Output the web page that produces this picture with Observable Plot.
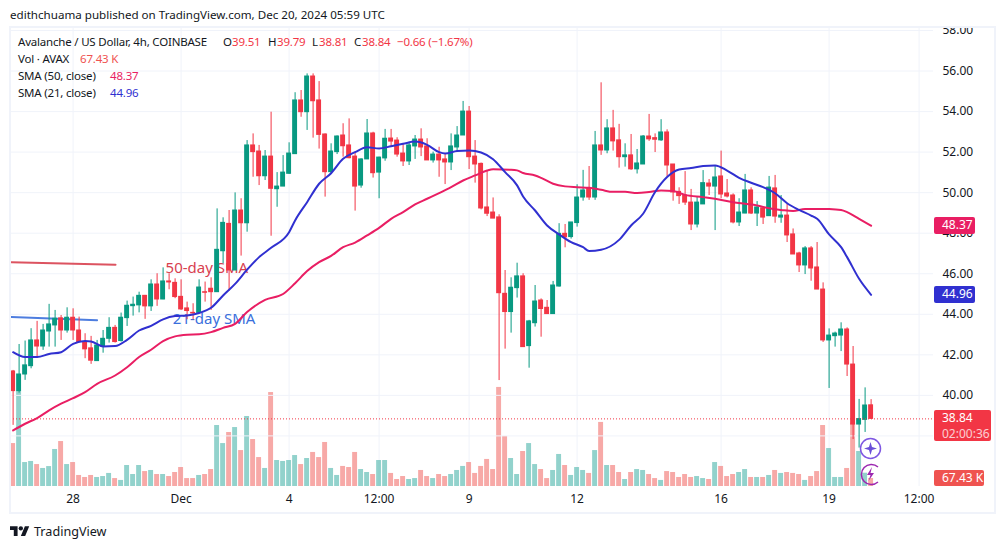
<!DOCTYPE html>
<html>
<head>
<meta charset="utf-8">
<script src="https://cdn.jsdelivr.net/npm/d3@7"></script>
<script src="https://cdn.jsdelivr.net/npm/@observablehq/plot@0.6"></script>
<style>
html,body{margin:0;padding:0;background:#fff;width:1005px;height:549px;overflow:hidden}
#stage{position:relative;width:1005px;height:549px;font-family:"Noto Sans",sans-serif;color:#131722}
#stage>svg,.layer{position:absolute;left:0;top:0}
.layer svg{display:block}
.t{position:absolute;white-space:nowrap;font-size:11.6px;line-height:16px}
.lg{font-size:11.5px;letter-spacing:-0.2px}
.tag{position:absolute;color:#fff;font-size:12px;line-height:16px;padding-left:8px;box-sizing:border-box;border-radius:2px;white-space:nowrap}
</style>
</head>
<body>
<div id="stage"></div>
<script>
const opens=[41.18,40.21,41.03,41.44,42.71,42.41,43.15,43.45,43.80,43.20,
43.83,43.20,42.63,42.32,41.69,42.41,42.79,43.33,42.68,43.81,
44.40,44.44,44.91,44.39,45.47,44.73,45.62,45.55,44.86,44.29,
44.07,44.07,45.09,45.26,45.09,47.11,48.46,46.16,49.12,48.49,
52.33,52.03,50.81,51.78,50.17,50.30,50.93,51.90,54.55,53.97,
55.73,54.55,52.87,51.01,52.00,52.82,52.33,51.78,50.35,51.64,
52.92,50.99,51.69,52.67,52.57,51.93,51.54,52.28,52.62,52.28,
51.59,51.88,51.64,51.49,52.23,52.82,54.00,51.78,51.42,49.27,
49.02,48.78,45.01,44.11,45.29,45.87,42.43,43.56,44.68,44.32,
44.01,45.37,47.97,47.81,48.50,49.76,50.21,49.76,52.33,52.08,
53.17,52.58,51.75,51.84,51.15,51.39,52.77,52.69,52.58,52.97,
51.39,50.04,49.86,49.51,48.43,49.42,50.45,50.30,50.80,49.96,
49.86,48.53,48.97,50.11,48.97,49.23,48.84,50.21,48.77,48.87,
47.94,47.00,46.41,47.25,46.31,45.22,42.71,42.92,42.95,43.25,
41.52,38.56,38.79,39.51];
const highs=[41.23,42.51,42.68,43.29,43.65,43.50,44.49,44.19,43.94,44.32,
44.27,43.86,43.04,42.91,42.71,43.20,43.83,43.45,44.06,44.65,
44.85,45.09,44.93,45.70,46.00,46.29,46.00,45.75,45.70,44.60,
44.52,45.70,45.59,45.80,49.20,48.76,49.12,49.99,49.70,52.57,
52.90,52.33,52.08,53.97,50.99,51.83,52.46,54.93,55.04,55.86,
55.86,55.48,52.90,52.41,52.80,53.40,53.64,52.00,51.67,53.61,
52.98,51.75,53.12,53.12,52.71,52.41,52.49,52.82,53.15,52.66,
52.00,52.24,51.92,52.90,53.26,54.50,54.25,52.57,51.46,51.04,
49.74,48.91,46.16,45.80,46.52,46.00,43.70,45.42,44.76,44.68,
45.62,48.47,48.43,48.53,50.39,51.10,51.29,53.02,55.42,53.60,
54.06,53.37,52.41,52.87,52.13,52.82,53.86,52.90,53.60,53.10,
51.39,50.24,51.04,50.16,49.78,51.09,50.65,51.34,52.05,50.65,
49.94,49.70,50.90,50.24,49.56,49.28,50.80,50.85,49.86,49.42,
48.21,47.06,47.34,47.34,47.54,45.55,43.28,43.12,43.58,43.33,
42.41,39.80,40.37,39.79];
const lows=[38.52,40.11,40.74,41.31,41.89,42.22,42.38,42.38,42.71,43.07,
42.71,42.58,41.81,41.53,41.67,42.08,42.58,42.58,42.63,43.40,
43.91,44.07,43.75,44.14,44.39,44.72,45.21,44.77,44.19,43.73,
43.73,44.06,44.60,44.19,45.09,46.49,45.14,46.16,46.87,48.05,
50.76,50.35,50.60,47.85,49.28,50.30,50.90,51.90,53.72,53.07,
52.69,52.15,49.78,50.93,51.88,51.75,51.67,49.09,50.22,51.64,
50.72,49.70,51.55,52.24,51.75,51.29,51.34,51.64,51.78,51.59,
51.46,50.76,50.40,51.09,51.98,52.82,51.14,50.47,49.15,48.82,
48.72,40.73,42.28,43.07,44.80,42.38,41.34,43.37,42.87,44.01,
44.01,45.34,47.28,47.71,48.30,49.58,49.62,49.62,51.84,51.92,
52.05,51.21,51.26,51.10,50.92,51.39,52.53,51.98,52.53,50.80,
49.58,49.42,49.37,48.13,48.26,49.42,49.86,48.13,49.70,49.74,
48.46,48.33,48.96,48.92,48.33,48.43,48.84,48.49,48.49,47.54,
46.95,46.06,45.96,45.63,45.22,42.61,40.34,42.38,42.16,40.93,
37.82,37.40,38.17,38.81];
const closes=[40.21,41.03,41.48,42.71,42.41,43.20,43.50,43.78,43.20,43.83,
43.20,42.63,42.27,41.71,42.46,42.79,43.33,42.63,43.83,44.42,
44.47,44.91,44.39,45.47,44.73,45.62,45.57,44.85,44.24,44.16,
44.04,45.32,45.06,45.09,47.18,48.51,46.16,49.12,48.49,52.33,
52.00,50.81,51.78,50.19,50.30,50.99,51.93,54.55,53.97,55.73,
54.51,52.85,51.01,52.03,52.77,52.29,51.70,50.30,51.64,52.92,
50.96,51.73,52.66,52.52,51.88,51.54,52.33,52.62,52.23,51.59,
51.88,51.59,51.49,52.28,52.82,54.00,51.75,51.39,49.22,48.96,
48.72,45.04,44.11,45.31,45.87,42.38,43.65,44.63,44.26,44.01,
45.42,47.97,47.79,48.53,49.76,50.11,49.76,52.33,52.08,53.17,
52.53,51.75,51.84,51.15,51.44,52.77,52.63,52.61,52.97,51.34,
50.01,49.83,49.51,48.43,49.51,50.47,50.30,50.75,49.91,49.81,
48.53,49.02,50.11,48.97,49.27,48.77,50.25,48.82,48.87,47.89,
46.95,46.41,47.25,46.26,45.22,42.71,42.95,43.05,43.25,41.52,
38.56,38.83,39.50,38.84];
const volumes=[362,803,202,211,185,152,168,312,379,185,
202,93,76,93,76,84,110,67,51,177,
101,177,126,135,101,101,84,118,160,67,
67,93,101,143,514,362,455,497,303,590,
396,244,152,792,219,211,219,261,185,236,
287,244,371,152,93,169,160,287,143,118,
101,219,219,110,59,84,59,67,135,84,
67,101,84,101,135,169,202,110,169,228,
143,835,422,236,101,295,362,185,143,67,
135,270,177,93,160,135,110,303,540,177,
177,118,59,118,143,135,101,67,51,126,
118,76,101,76,84,67,59,202,169,84,
101,118,143,76,76,76,93,135,110,118,
110,101,51,84,126,514,320,76,76,152,
534,295,112,67.43];

const sma21Bars=[0,2,4,6,8,10,12,13,15,17,19,21,23,25,27,29,31,33,35,37,39,41,43,46,47,49,51,53,55,57,59,61,63,65,67,69,71,72,74,76,78,80,82,84,85,87,89,91,93,95,96,98,101,103,105,107,109,111,113,115,117,119,121,123,125,127,129,131,133,134,136,138,139,141,143];
const sma21Values=[42.13,41.89,41.89,42.04,42.13,42.54,42.68,42.66,42.41,42.43,42.74,43.20,43.43,43.75,43.91,43.94,44.06,44.32,44.93,45.50,46.20,46.82,47.28,48.05,48.63,49.53,50.44,50.96,51.67,52.00,52.24,52.18,52.29,52.41,52.52,52.36,52.00,51.93,52.05,52.08,51.98,51.65,51.01,50.36,49.81,49.12,48.38,47.94,47.56,47.31,47.12,47.18,47.67,48.38,48.96,50.03,50.77,51.14,51.22,51.31,51.34,51.09,50.73,50.49,50.27,49.97,49.48,49.15,48.87,48.71,47.94,47.31,46.82,45.75,44.96];
const sma50Bars=[0,2,4,6,8,10,12,14,17,19,21,23,25,27,29,31,33,35,37,39,42,45,47,49,51,53,55,57,59,61,63,65,67,69,71,73,75,77,79,80,83,84,85,87,88,90,92,94,96,98,100,102,104,106,108,110,112,115,117,120,122,124,126,128,130,132,134,136,138,139,141,143];
const sma50Values=[38.27,38.60,38.88,39.26,39.59,39.86,40.16,40.57,40.98,41.39,41.89,42.25,42.68,42.91,42.99,43.01,43.12,43.33,43.53,44.11,44.71,45.00,45.53,46.13,46.57,46.88,47.31,47.54,47.89,48.26,48.71,49.04,49.42,49.70,49.98,50.27,50.60,50.85,51.09,51.15,51.13,51.10,50.97,50.85,50.73,50.44,50.31,50.27,50.24,50.14,50.04,50.04,49.98,50.03,50.11,50.08,49.89,49.78,49.70,49.53,49.45,49.37,49.23,49.15,49.09,49.20,49.20,49.19,49.14,49.04,48.71,48.37];

const drawn50Bars=[-0.3,17.07], drawn50Values=[46.57,46.44];
const drawn21Bars=[-0.3,14.0], drawn21Values=[43.86,43.71];

const tickBars=[10,28,46,61,76,94,118,136,151];
const tickLabels=["28","Dec","4","12:00","9","12","16","19","12:00"];
const priceTicks=[58,56,54,52,50,48,46,44,42,40];
const gridPrices=[58,56,54,52,50,48,46,44,42,40,38];

const bars=opens.map((o,i)=>({i,o,h:highs[i],l:lows[i],c:closes[i],v:volumes[i],up:closes[i]>=o}));
const sma21=sma21Bars.map((b,k)=>({b,v:sma21Values[k]}));
const sma50=sma50Bars.map((b,k)=>({b,v:sma50Values[k]}));
const drawn50=drawn50Bars.map((b,k)=>({b,v:drawn50Values[k]}));
const drawn21=drawn21Bars.map((b,k)=>({b,v:drawn21Values[k]}));

const GREEN="#089981",RED="#f23645",GRID="#f0f3fa";
const FONT='"Noto Sans",sans-serif';
const W=1005,H=549,ML=10,MR=72,MT=27,MB=63;
const half=0.41;

const volPlot=Plot.plot({
  width:W,height:H,marginLeft:ML,marginRight:MR,marginTop:MT,marginBottom:MB,
  style:{background:"transparent",fontFamily:FONT,fontSize:"12px",color:"#131722"},
  x:{domain:[-0.4333,153.4],axis:null},y:{domain:[0,3869],axis:null},
  marks:[
    Plot.ruleX(tickBars,{x:d=>d,stroke:GRID,strokeWidth:1}),
    Plot.rect(bars,{x1:d=>d.i-half,x2:d=>d.i+half,y1:0,y2:"v",fill:d=>d.up?"#26a69a":"#ef5350",fillOpacity:0.5}),
    Plot.axisX({ticks:tickBars,tickFormat:d=>tickLabels[tickBars.indexOf(d)],tickSize:0,tickPadding:8,label:null,fontSize:12})
  ]
});

const pricePlot=Plot.plot({
  width:W,height:H,marginLeft:ML,marginRight:MR,marginTop:MT,marginBottom:MB,
  style:{background:"transparent",fontFamily:FONT,fontSize:"12px",color:"#131722"},
  x:{domain:[-0.4333,153.4],axis:null},y:{domain:[35.504,58.148]},
  marks:[
    Plot.ruleY(gridPrices,{y:d=>d,stroke:GRID,strokeWidth:1}),
    Plot.line(drawn50,{x:"b",y:"v",stroke:"#d8404f",strokeWidth:2,strokeOpacity:0.9}),
    Plot.line(drawn21,{x:"b",y:"v",stroke:"#3a6fdc",strokeWidth:2,strokeOpacity:0.9}),
    Plot.text(["50-day SMA"],{x:[32.3],y:[46.26],text:d=>d,fill:"#d8404f",fontSize:15}),
    Plot.text(["21-day SMA"],{x:[33.5],y:[43.74],text:d=>d,fill:"#3a6fdc",fontSize:15}),
    Plot.ruleX(bars,{x:"i",y1:"l",y2:"h",stroke:d=>d.up?GREEN:RED,strokeWidth:1}),
    Plot.rect(bars,{x1:d=>d.i-half,x2:d=>d.i+half,y1:d=>Math.min(d.o,d.c),y2:d=>Math.max(d.o,d.c),fill:d=>d.up?GREEN:RED,insetTop:-0.5,insetBottom:-0.5}),
    Plot.line(sma50,{x:"b",y:"v",stroke:"#e91e63",strokeWidth:2,curve:"monotone-x"}),
    Plot.line(sma21,{x:"b",y:"v",stroke:"#3030d0",strokeWidth:2,curve:"monotone-x"}),
    Plot.ruleY([38.84],{stroke:RED,strokeDasharray:"1 2",strokeWidth:1}),
    Plot.axisY({anchor:"right",ticks:priceTicks,tickFormat:d=>d.toFixed(2),tickSize:0,tickPadding:9,label:null,fontSize:12})
  ]
});

const stage=document.getElementById("stage");
stage.append(volPlot,pricePlot);

function el(cls,css,html){const d=document.createElement("div");d.className=cls;d.style.cssText=css;d.innerHTML=html;stage.append(d);return d;}

el("layer","width:1005px;height:26px;background:#fff","");
el("layer","left:9px;top:26px;width:987px;height:488px;box-sizing:border-box;border:2px solid #f0f3fa","");
el("t","left:10px;top:7px","edithchuama published on TradingView.com, Dec 20, 2024 05:59 UTC");

const legendRed="#f23645",volRed="#ef5350";
const row=(y,items)=>items.forEach(([x,txt,col])=>el("t lg",`left:${x}px;top:${y}px;color:${col||"#131722"}`,txt));
row(34,[[18,"Avalanche / US Dollar, 4h, COINBASE"],[223,"O"],[232,"39.51",legendRed],[268,"H"],[277,"39.79",legendRed],[312,"L"],[319,"38.81",legendRed],[354,"C"],[362,"38.84",legendRed],[397,"−0.66 (−1.67%)",legendRed]]);
row(51,[[18,"Vol · AVAX"],[80,"67.43 K",volRed]]);
row(68,[[18,"SMA (50, close)"],[110,"48.37","#e91e63"]]);
row(85,[[18,"SMA (21, close)"],[110,"44.96","#3030d0"]]);

const py=pricePlot.scale("y"),vy=volPlot.scale("y");
const tag=(top,w,h,bg,html)=>el("tag",`left:934px;top:${top}px;width:${w}px;height:${h}px;background:${bg}`,html);
tag(py.apply(48.37)-8,41,17,"#e91e63","48.37");
tag(py.apply(44.96)-8,41,17,"#3030d0","44.96");
tag(py.apply(38.84)-8,57,31,"#f23645",'38.84<br><span style="opacity:.75">02:00:36</span>');
tag(vy.apply(67.43)-8,50,16,"#ef5350","67.43 K");

el("layer","left:858px;top:436px;width:26px;height:50px",`<svg width="26" height="50" viewBox="0 0 26 50">
<circle cx="12.5" cy="12.5" r="10" fill="#fff" stroke="#7e57e2" stroke-width="1.5"/>
<path d="M12.5 6 L14 11 L19 12.5 L14 14 L12.5 19 L11 14 L6 12.5 L11 11 Z" fill="#6a4fd8"/>
<path d="M20 31 A10 10 0 1 0 20 46" fill="none" stroke="#9c27b0" stroke-width="1.5"/>
<path d="M14 31 L9 39 L12.5 39 L10.5 45 L16 37 L12.5 37 Z" fill="#9c27b0"/></svg>`);

el("layer","left:10px;top:526px;width:20px;height:11px",`<svg width="19.5" height="10" viewBox="0 4 36 18"><path fill="#131722" d="M14 22H7V11H0V4h14v18zM28 22h-8l7.5-18h8L28 22z"/><circle fill="#131722" cx="20" cy="8" r="4"/></svg>`);
el("t","left:34px;top:523px;font-size:12.6px;line-height:18px","TradingView");
</script>
</body>
</html>
